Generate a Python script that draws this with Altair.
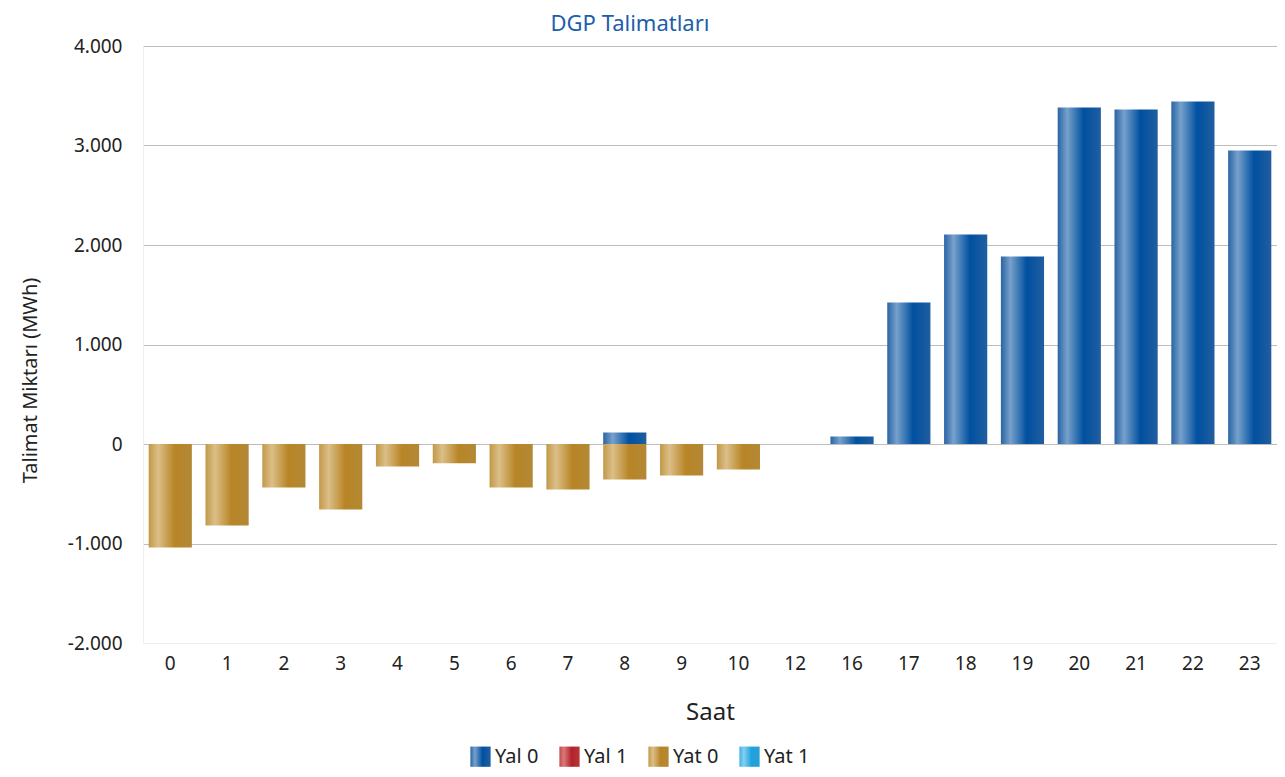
import altair as alt
import pandas as pd

hours = ["0", "1", "2", "3", "4", "5", "6", "7", "8", "9", "10", "12", "16", "17", "18", "19", "20", "21", "22", "23"]
yal0 = [0, 0, 0, 0, 0, 0, 0, 0, 116, 0, 0, 0, 75, 1422, 2105, 1884, 3382, 3362, 3442, 2950]
yal1 = [0] * 20
yat0 = [-1040, -819, -437, -658, -226, -193, -437, -457, -357, -317, -256, 0, 0, 0, 0, 0, 0, 0, 0, 0]
yat1 = [0] * 20
series_names = ["Yal 0", "Yal 1", "Yat 0", "Yat 1"]
y_ticks = [-2000, -1000, 0, 1000, 2000, 3000, 4000]

rows = []
for name, vals in zip(series_names, [yal0, yal1, yat0, yat1]):
    for h, v in zip(hours, vals):
        rows.append({"Saat": h, "Seri": name, "Deger": v})
df = pd.DataFrame(rows)


def grad(stops):
    s = ",".join("{offset:%s,color:'%s'}" % (o, c) for o, c in stops)
    return {"expr": "{gradient:'linear',x1:0,y1:0,x2:1,y2:0,stops:[%s]}" % s}


blue = grad([(0, "#2a64a5"), (0.22, "#77a1cb"), (0.6, "#0050a0"), (1, "#215e9f")])
red = grad([(0, "#c44a4d"), (0.22, "#d77a7c"), (0.6, "#b3222a"), (1, "#b8353a")])
gold = grad([(0, "#c29847"), (0.22, "#dbbf88"), (0.6, "#b88526"), (1, "#b38836")])
lblue = grad([(0, "#45b0e4"), (0.22, "#82cff1"), (0.6, "#1fa2dc"), (1, "#2a9fd6")])

font = "Noto Sans"
txt = "#222222"

chart = alt.Chart(df).mark_bar().encode(
    x=alt.X("Saat:N", sort=hours, title="Saat",
            scale=alt.Scale(paddingInner=0.24, paddingOuter=0.1),
            axis=alt.Axis(labelAngle=0, ticks=False, labelPadding=11, labelFontSize=19,
                          labelColor=txt, titleFontSize=24, titleColor=txt,
                          titleFontWeight="normal", titlePadding=27,
                          domainColor="#eeeeee", labelFont=font, titleFont=font)),
    y=alt.Y("Deger:Q", title="Talimat Miktarı (MWh)", stack="zero",
            scale=alt.Scale(domain=[-2000, 4000], nice=False),
            axis=alt.Axis(values=y_ticks, ticks=False,
                          labelExpr="replace(replace(format(datum.value, ','), ',', '.'), '\u2212', '-')",
                          labelPadding=21, labelFontSize=19, labelColor=txt,
                          titleFontSize=20, titleColor=txt, titleFontWeight="normal",
                          titleX=-113, titleY=334, titleBaseline="middle", titleAngle=270,
                          domainColor="#eeeeee",
                          gridColor={"condition": {"test": "datum.value == -2000", "value": "#eeeeee"},
                                     "value": "#bdbdbd"},
                          labelFont=font, titleFont=font)),
    color=alt.Color("Seri:N", title=None,
                    scale=alt.Scale(domain=series_names, range=[blue, red, gold, lblue]),
                    legend=alt.Legend(orient="none", direction="horizontal", symbolType="square",
                                      symbolSize=410, symbolStrokeWidth=0, labelFontSize=20,
                                      labelColor=txt, labelFont=font, columnPadding=20,
                                      labelOffset=4, legendX=327, legendY=700)),
    order=alt.Order("Seri:N"),
).properties(
    width=1134,
    height=597,
    autosize=alt.AutoSizeParams(type="none"),
    padding={"left": 135, "top": 38, "right": 0, "bottom": 126},
    title=alt.TitleParams("DGP Talimatları", fontSize=22, color="#1b5eaa", fontWeight="normal",
                          font=font, anchor="middle", frame="group", offset=1, dx=-80),
).configure_view(stroke=None).configure_axis(gridWidth=1.2)

chart.save("out.html", embed_options={"renderer": "svg", "actions": False})
